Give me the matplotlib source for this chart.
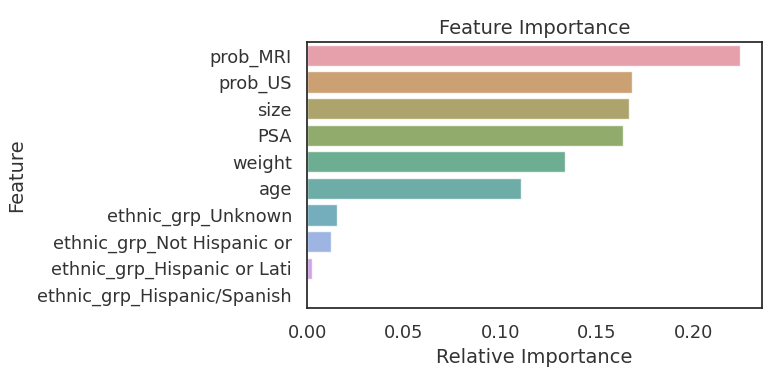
import numpy as np
import matplotlib.pyplot as plt
import seaborn as sns

features = ["prob_MRI", "prob_US", "size", "PSA", "weight", "age",
            "ethnic_grp_Unknown", "ethnic_grp_Not Hispanic or",
            "ethnic_grp_Hispanic or Lati", "ethnic_grp_Hispanic/Spanish"]
importance = [0.2244, 0.1683, 0.1667, 0.1636, 0.1335, 0.1107,
              0.0156, 0.0125, 0.0026, 0.0]

sns.set_style("white")
plt.rcParams['font.family'] = ['DejaVu Sans']

fig = plt.figure(figsize=(7.68, 3.73), dpi=100)
ax = fig.add_axes([0.40, 0.174, 0.592, 0.713])
sns.barplot(x=importance, y=features, hue=features, palette="husl",
            legend=False, alpha=0.8, saturation=0.65, ax=ax)

ax.set_title("Feature Importance", fontsize=14, color=".2", pad=6)
ax.set_xlabel("Relative Importance", fontsize=14, color=".2", labelpad=4)
ax.set_ylabel("Feature", fontsize=14, color=".2", labelpad=8)
ax.tick_params(labelsize=12.8, colors=".2")
ax.tick_params(axis="y", pad=7.5)
ax.tick_params(axis="x", pad=8)
for s in ax.spines.values():
    s.set_linewidth(1.25)
    s.set_color(".15")

fig.savefig("out.png", dpi=100)
